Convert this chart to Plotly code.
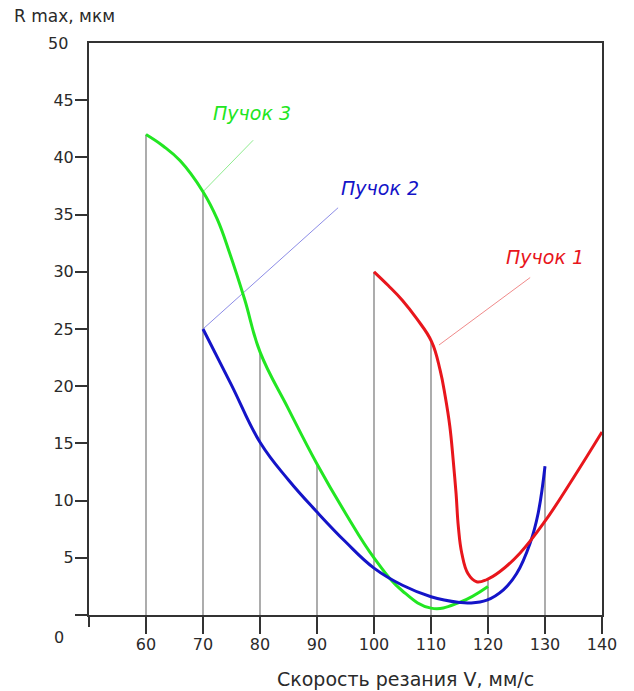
import plotly.graph_objects as go

# ---- data ----
green_x = [60, 63, 66, 70, 72.5, 74.7, 77.3, 80, 85, 90, 95, 100, 105, 110, 115, 120]
green_y = [42, 41.0, 39.7, 37, 34.6, 31.6, 27.6, 23.0, 18.0, 13.2, 8.9, 5.0, 2.1, 0.6, 1.1, 2.5]

blue_x = [70, 75, 80, 85, 90, 95, 100, 105, 110, 115, 116.8, 119.8, 122.7, 125.0, 127.4, 128.8, 130]
blue_y = [25, 20.1, 15.1, 11.8, 9.0, 6.4, 4.1, 2.6, 1.6, 1.1, 1.05, 1.3, 2.2, 3.6, 6.3, 8.9, 13]

red_x = [100, 102.5, 105, 107.5, 110.1, 111.6, 112.5, 113.3, 113.9, 114.4, 114.8, 115.4,
         116.5, 118.0, 119.8, 122.1, 125.6, 130, 135, 140]
red_y = [30, 28.8, 27.5, 25.9, 23.9, 21.4, 19.1, 16.5, 13.5, 10.6, 7.7, 5.4,
         3.6, 2.9, 3.1, 3.8, 5.4, 8.2, 12.0, 16]

# drop lines (x position, top value)
drop_x = [60, 70, 80, 90, 100, 110, 120, 130]
drop_top = [42, 37, 23.0, 13.2, 30, 24, 3.1, 13]

x_ticks = [60, 70, 80, 90, 100, 110, 120, 130, 140]
y_ticks = [0, 5, 10, 15, 20, 25, 30, 35, 40, 45]
y_tick_text = ["", "5", "10", "15", "20", "25", "30", "35", "40", "45"]

labels = ["Пучок 1", "Пучок 2", "Пучок 3"]
label_pos = [(130.0, 31.3), (101.1, 37.3), (78.6, 43.9)]
leader_from = [(111.4, 23.6), (70, 25), (70, 37)]
leader_to = [(127.4, 29.5), (93.7, 35.6), (78.8, 41.5)]

X_RANGE = [50, 140]
Y_RANGE = [0, 50]

RED = "#e8161c"
BLUE = "#1414c8"
GREEN = "#22e622"
LEAD = ["#f08a8a", "#8c8ce6", "#8fec8f"]
TEXT = "#2a2a2a"
AX = "#333333"
FONT = "DejaVu Sans"

# plot area in pixels (for converting annotation offsets to paper fractions)
L, R, T, B, W, H = 89, 32, 43, 76, 634, 691
PW, PH = W - L - R, H - T - B


def px(xp):
    return (xp - L) / PW


def py(yp):
    return (H - B - yp) / PH


fig = go.Figure()

# drop lines
dx, dy = [], []
for x, t in zip(drop_x, drop_top):
    dx += [x, x, None]
    dy += [0, t, None]
fig.add_trace(go.Scatter(x=dx, y=dy, mode="lines",
                         line=dict(color="#808080", width=1.3),
                         hoverinfo="skip", showlegend=False))

# leader lines
for (x0, y0), (x1, y1), c in zip(leader_from, leader_to, LEAD):
    fig.add_trace(go.Scatter(x=[x0, x1], y=[y0, y1], mode="lines",
                             line=dict(color=c, width=1),
                             hoverinfo="skip", showlegend=False))

for xs, ys, c in [(green_x, green_y, GREEN), (blue_x, blue_y, BLUE), (red_x, red_y, RED)]:
    fig.add_trace(go.Scatter(x=xs, y=ys, mode="lines",
                             line=dict(color=c, width=3, shape="spline", smoothing=1.2),
                             showlegend=False))

# invisible trace on a second x axis that only carries the long tick marks
fig.add_trace(go.Scatter(x=[X_RANGE[0]], y=[Y_RANGE[0]], xaxis="x2", mode="markers",
                         marker=dict(opacity=0), hoverinfo="skip", showlegend=False))

colors = [RED, BLUE, GREEN]
for txt, (x, y), c in zip(labels, label_pos, colors):
    fig.add_annotation(x=x, y=y, xref="x", yref="y", text="<i>" + txt + "</i>",
                       showarrow=False, font=dict(family=FONT, size=19, color=c))

# extra labels "50" and "0"
fig.add_annotation(x=0, y=50, xref="paper", yref="y", text="50", showarrow=False,
                   xanchor="right", xshift=-19, font=dict(family=FONT, size=16, color=TEXT))
fig.add_annotation(x=0, y=0, xref="paper", yref="y", text="0", showarrow=False,
                   xshift=-37, yshift=-22, font=dict(family=FONT, size=16, color=TEXT))

# axis titles
fig.add_annotation(x=px(12), y=py(16), xref="paper", yref="paper", text="R max, мкм",
                   showarrow=False, xanchor="left", yanchor="middle",
                   font=dict(family=FONT, size=17, color=TEXT))
fig.add_annotation(x=px(405), y=py(679), xref="paper", yref="paper",
                   text="Скорость резания V, мм/с",
                   showarrow=False, xanchor="center", yanchor="middle",
                   font=dict(family=FONT, size=19, color=TEXT))

# y axis extension below
fig.add_shape(type="line", xref="paper", yref="paper", x0=0, x1=0, y0=0, y1=-12 / PH,
              line=dict(color=AX, width=2))

fig.update_layout(
    width=W, height=H,
    margin=dict(l=L, r=R, t=T, b=B),
    paper_bgcolor="white", plot_bgcolor="white",
    showlegend=False,
    xaxis2=dict(range=X_RANGE, overlaying="x", anchor="y", side="bottom",
                tickvals=x_ticks[:-1], ticks="outside", ticklen=18, tickwidth=2,
                tickcolor=AX, showticklabels=False, showgrid=False, zeroline=False,
                showline=False),
)
fig.update_xaxes(range=X_RANGE, tickvals=x_ticks, ticks="", showgrid=False, zeroline=False,
                 showline=True, linecolor=AX, linewidth=2, mirror=True,
                 ticklabelstandoff=14,
                 tickfont=dict(family=FONT, size=16, color=TEXT), selector=dict(anchor="y") if False else None)
fig.layout.xaxis.update(range=X_RANGE, tickvals=x_ticks, ticks="", showgrid=False,
                        zeroline=False, showline=True, linecolor=AX, linewidth=2,
                        mirror=True, ticklabelstandoff=14,
                        tickfont=dict(family=FONT, size=16, color=TEXT))
fig.layout.xaxis2.update(showticklabels=False, ticks="outside", ticklen=18, tickwidth=2,
                         tickcolor=AX, showline=False, mirror=False)
fig.update_yaxes(range=Y_RANGE, tickvals=y_ticks, ticktext=y_tick_text, ticks="outside",
                 ticklen=12, tickcolor=AX, tickwidth=2, showgrid=False, zeroline=False,
                 showline=True, linecolor=AX, linewidth=2, mirror=True,
                 ticklabelstandoff=-2,
                 tickfont=dict(family=FONT, size=16, color=TEXT))

fig.write_html("out.html", config={"displayModeBar": False},
               post_script="document.body.style.margin='0';")
